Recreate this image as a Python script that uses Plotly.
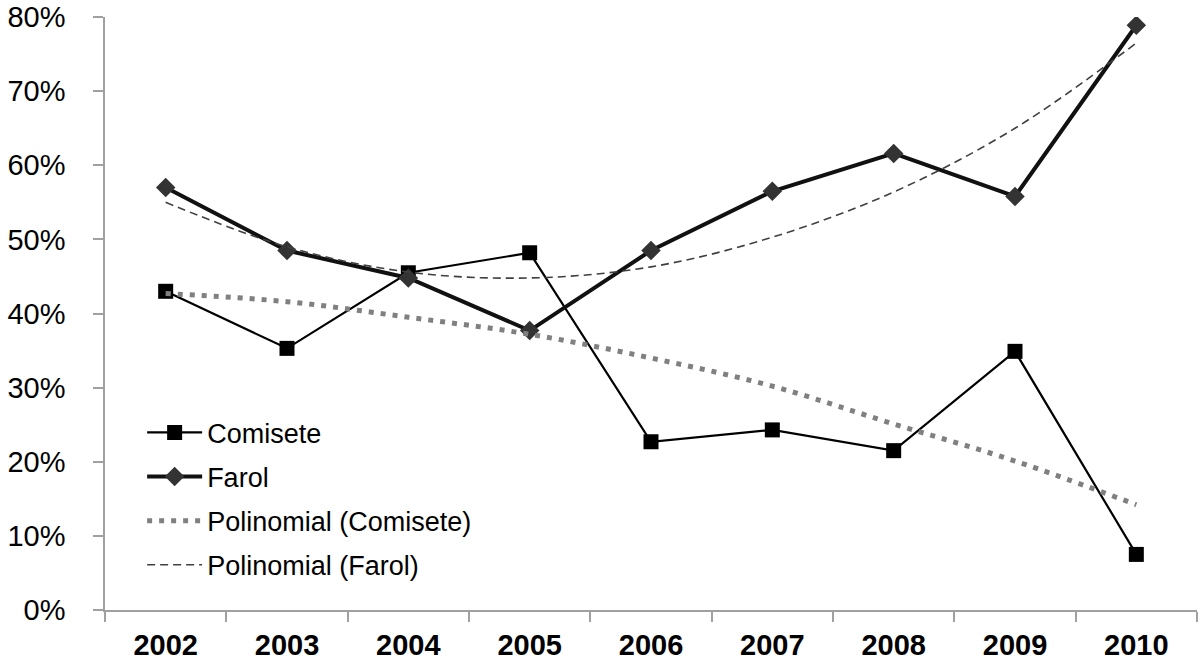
import plotly.graph_objects as go

years = ['2002', '2003', '2004', '2005', '2006', '2007', '2008', '2009', '2010']
comisete = [0.430, 0.353, 0.455, 0.482, 0.227, 0.243, 0.215, 0.349, 0.075]
farol = [0.570, 0.485, 0.448, 0.377, 0.485, 0.565, 0.616, 0.558, 0.789]
# trend lines at each year
poli_comisete = [0.427, 0.416, 0.395, 0.372, 0.340, 0.302, 0.251, 0.201, 0.142]
poli_farol = [0.550, 0.490, 0.456, 0.448, 0.463, 0.503, 0.564, 0.650, 0.765]

font_fam = 'Arial, Liberation Sans, sans-serif'

fig = go.Figure()

fig.add_trace(go.Scatter(
    x=years, y=comisete, name='Comisete', mode='lines+markers',
    line=dict(color='#000000', width=2.2),
    marker=dict(symbol='square', size=15, color='#000000'),
    legendgroup='a'
))

fig.add_trace(go.Scatter(
    x=years, y=farol, name='Farol', mode='lines+markers',
    line=dict(color='#111111', width=4),
    marker=dict(symbol='diamond', size=15, color='#333333'),
    legendgroup='b'
))

fig.add_trace(go.Scatter(
    x=years, y=poli_comisete, name='Polinomial (Comisete)', mode='lines',
    line=dict(color='#808080', width=5, dash='5px,7px', shape='spline'),
    legendgroup='c'
))

fig.add_trace(go.Scatter(
    x=years, y=poli_farol, name='Polinomial (Farol)', mode='lines',
    line=dict(color='#404040', width=1.6, dash='8px,5px', shape='spline'),
    legendgroup='d'
))

fig.update_layout(
    width=1200, height=662,
    margin=dict(l=105, r=3, t=17, b=52, autoexpand=False),
    plot_bgcolor='white', paper_bgcolor='white',
    font=dict(family=font_fam, color='#000000'),
    showlegend=True,
    legend=dict(
        x=0.034, y=0.34, xanchor='left', yanchor='top',
        font=dict(size=27, family=font_fam, color='#000000'),
        bgcolor='rgba(0,0,0,0)',
        traceorder='grouped', tracegroupgap=6,
        itemwidth=55
    )
)

fig.update_xaxes(
    type='category', tickson='boundaries', range=[-0.5, 8.5],
    showline=True, linecolor='#a0a0a0', linewidth=1.5,
    ticks='outside', ticklen=10, tickcolor='#a0a0a0', tickwidth=1.5,
    showgrid=False, zeroline=False, automargin=False,
    tickfont=dict(size=29, family=font_fam, color='#000000', weight='bold'),
    ticklabelstandoff=8
)

fig.update_yaxes(
    range=[0, 0.8001], tickvals=[0, 0.1, 0.2, 0.3, 0.4, 0.5, 0.6, 0.7, 0.8],
    tickformat='.0%', ticklabeloverflow='allow',
    showline=True, linecolor='#a0a0a0', linewidth=1.5,
    ticks='outside', ticklen=10, tickcolor='#a0a0a0', tickwidth=1.5,
    showgrid=False, zeroline=False, automargin=False,
    tickfont=dict(size=29, family=font_fam, color='#000000'),
    ticklabelstandoff=22
)

fig.write_html("out.html", config={'displayModeBar': False},
               post_script="document.body.style.margin='0px';")
